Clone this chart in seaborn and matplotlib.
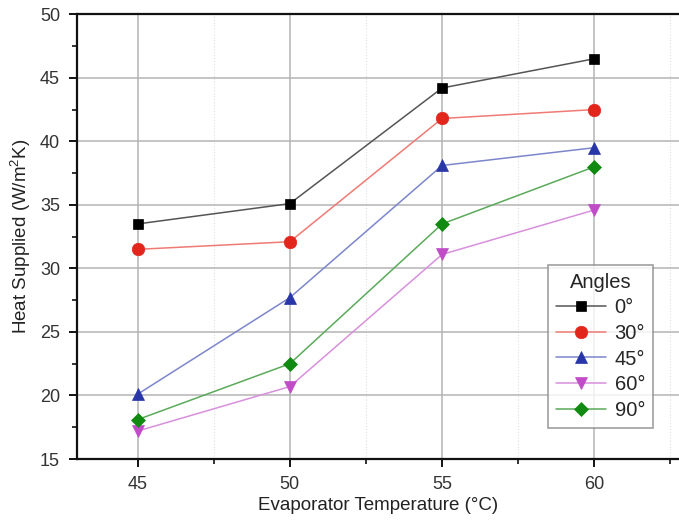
import pandas as pd
import matplotlib
matplotlib.use("Agg")
import matplotlib.pyplot as plt
import seaborn as sns
from matplotlib.ticker import MultipleLocator

# Datos
temperaturas = [45, 50, 55, 60]
angulos = ['0°', '30°', '45°', '60°', '90°']
calor_0 = [33.5, 35.1, 44.2, 46.5]
calor_30 = [31.5, 32.1, 41.8, 42.5]
calor_45 = [20.1, 27.7, 38.1, 39.5]
calor_60 = [17.2, 20.7, 31.1, 34.6]
calor_90 = [18.1, 22.5, 33.5, 38.0]

series = [calor_0, calor_30, calor_45, calor_60, calor_90]
marcadores = ['s', 'o', '^', 'v', 'D']
colores = ['#000000', '#e3261c', '#2836a8', '#c04cc8', '#108a10']
colores_linea = ['#555555', '#f07a74', '#7d86cc', '#d890dc', '#5aaa5a']
tamanos = [7.5, 9, 9, 9, 7.5]

sns.set_theme(style="ticks")
plt.rcParams['font.family'] = ['Liberation Sans', 'DejaVu Sans']
plt.rcParams['mathtext.default'] = 'regular'

filas = []
for ang, vals in zip(angulos, series):
    for t, v in zip(temperaturas, vals):
        filas.append({'Temperatura': t, 'Calor': v, 'Angulo': ang})
df = pd.DataFrame(filas)

fig = plt.figure(figsize=(6.79, 5.21), dpi=100)
ax = fig.add_axes([0.113, 0.119, 0.887, 0.8536])

for ang, mk, c, cl, ms in zip(angulos, marcadores, colores, colores_linea, tamanos):
    sub = df[df['Angulo'] == ang]
    sns.lineplot(data=sub, x='Temperatura', y='Calor', ax=ax, label=ang,
                 color=cl, linewidth=1.1, marker=mk, markersize=ms,
                 markerfacecolor=c, markeredgecolor=c, markeredgewidth=0.5)

ax.set_xlim(43, 62.78)
ax.set_ylim(15, 50)
ax.xaxis.set_major_locator(MultipleLocator(5))
ax.xaxis.set_minor_locator(MultipleLocator(2.5))
ax.yaxis.set_major_locator(MultipleLocator(5))
ax.yaxis.set_minor_locator(MultipleLocator(2.5))

ax.grid(which='major', color='#b4b4b4', linewidth=1.1)
ax.grid(which='minor', axis='x', color='#e0e0e0', linewidth=0.8, linestyle=':')
ax.set_axisbelow(True)

for lado in ['left', 'bottom', 'top']:
    ax.spines[lado].set_linewidth(1.6)
    ax.spines[lado].set_color('#111111')
ax.spines['right'].set_visible(False)

ax.tick_params(which='major', direction='out', length=6, width=1.4,
               labelsize=13, colors='#111111', labelcolor='#333333', pad=6)
ax.tick_params(which='minor', direction='out', length=3.5, width=1.2, colors='#111111')
ax.tick_params(top=False, right=False)

ax.set_xlabel('Evaporator Temperature (°C)', fontsize=13.5, color='#222222', labelpad=3)
ax.set_ylabel('Heat Supplied (W/m$^2$K)', fontsize=13.5, color='#222222', labelpad=5)

leg = ax.legend(title='Angles', loc='lower right', bbox_to_anchor=(0.957, 0.07),
                fontsize=14.5, title_fontsize=14.5, frameon=True, fancybox=False,
                edgecolor='#888888', handlelength=2.5, borderpad=0.4,
                labelspacing=0.33, handletextpad=0.4, borderaxespad=0)
leg.get_frame().set_linewidth(1.2)

plt.savefig('out.png', dpi=100)
plt.close()
